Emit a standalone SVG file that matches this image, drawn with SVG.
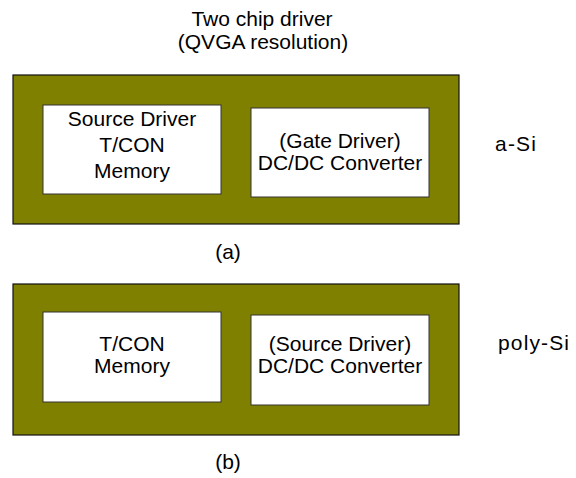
<svg xmlns="http://www.w3.org/2000/svg" width="576" height="478" viewBox="0 0 576 478">
<style>
text{font-family:"Liberation Sans",Arial,sans-serif;font-size:21px;fill:#000;}
.c{text-anchor:middle;}
.outer{fill:#808000;stroke:#111;stroke-width:1.2;}
.inner{fill:#fff;stroke:#333;stroke-width:1;}
</style>
<rect width="576" height="478" fill="#fff"/>
<g id="title">
<text class="c" x="262" y="26">Two chip driver</text>
<text class="c" x="263" y="49">(QVGA resolution)</text>
</g>
<g id="panel-a">
<rect class="outer" x="13" y="75" width="446" height="149"/>
</g>
<g id="a-left">
<rect class="inner" x="43" y="105" width="178" height="89"/>
<text class="c" x="132" y="126">Source Driver</text>
<text class="c" x="132" y="152">T/CON</text>
<text class="c" x="132" y="178">Memory</text>
</g>
<g id="a-right">
<rect class="inner" x="251" y="108" width="178" height="89"/>
<text class="c" x="340" y="148">(Gate Driver)</text>
<text class="c" x="340" y="170">DC/DC Converter</text>
</g>
<g id="a-label">
<text x="495" y="151" textLength="41" lengthAdjust="spacing">a-Si</text>
<text class="c" x="228" y="259">(a)</text>
</g>
<g id="panel-b">
<rect class="outer" x="13" y="284" width="446" height="151"/>
</g>
<g id="b-left">
<rect class="inner" x="43" y="312" width="178" height="90"/>
<text class="c" x="132" y="351">T/CON</text>
<text class="c" x="132" y="373">Memory</text>
</g>
<g id="b-right">
<rect class="inner" x="251" y="315" width="178" height="90"/>
<text class="c" x="340" y="351">(Source Driver)</text>
<text class="c" x="340" y="373">DC/DC Converter</text>
</g>
<g id="b-label">
<text x="498" y="350" textLength="71" lengthAdjust="spacing">poly-Si</text>
<text class="c" x="228" y="469">(b)</text>
</g>
<g id="connectors"></g>
</svg>
